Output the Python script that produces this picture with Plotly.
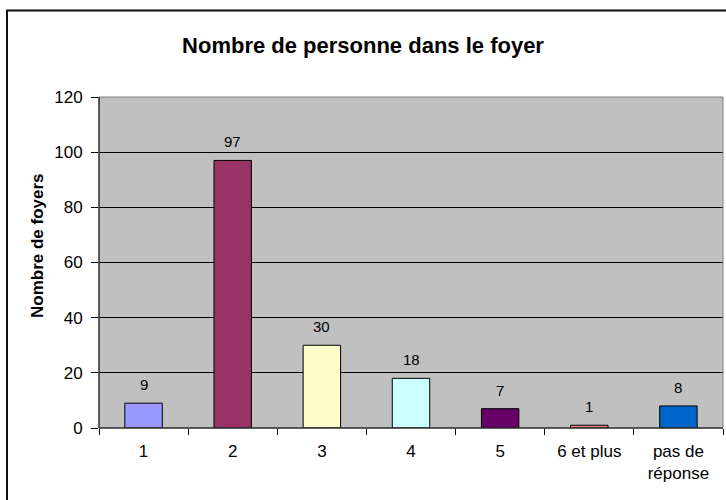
import plotly.graph_objects as go

categories = ["1", "2", "3", "4", "5", "6 et plus", "pas de<br>réponse"]
values = [9, 97, 30, 18, 7, 1, 8]
bar_colors = ["#9999FF", "#993366", "#FFFFCC", "#CCFFFF", "#660066", "#FF8080", "#0066CC"]
y_ticks = [0, 20, 40, 60, 80, 100, 120]

W, H = 726, 500
L, R, T, B = 99, 3, 97, 72
pw, ph = W - L - R, H - T - B

def px_x(px):
    return (px - L) / pw

def px_y(py):
    return (H - B - py) / ph

FONT = "Liberation Sans, Arial, sans-serif"

fig = go.Figure()
fig.add_trace(go.Bar(
    x=categories, y=values,
    marker=dict(color=bar_colors, line=dict(color="#000000", width=1)),
    hoverinfo="skip",
))

for i, v in enumerate(values):
    fig.add_annotation(x=i, y=v, text=str(v), showarrow=False, yanchor="bottom",
                       yshift=8, font=dict(family=FONT, size=15, color="#000000"))

fig.add_annotation(xref="paper", yref="paper", x=px_x(37), y=px_y(246),
                   text="<b>Nombre de foyers</b>", textangle=-90, showarrow=False,
                   xanchor="center", yanchor="middle",
                   font=dict(family=FONT, size=17, color="#000000"))

# plot area border
fig.add_shape(type="rect", xref="paper", yref="paper", x0=0, y0=0, x1=1, y1=1,
              line=dict(color="#808080", width=1), layer="above")
fig.add_shape(type="line", xref="paper", yref="paper", x0=0, y0=0, x1=0, y1=1,
              line=dict(color="#000000", width=1), layer="above")
fig.add_shape(type="line", xref="paper", yref="paper", x0=0, y0=0, x1=1, y1=0,
              line=dict(color="#000000", width=1), layer="above")
# outer chart frame
fig.add_shape(type="rect", xref="paper", yref="paper",
              x0=px_x(7), y0=px_y(510), x1=px_x(735), y1=px_y(10.5),
              line=dict(color="#111111", width=2), layer="above")

fig.update_layout(
    width=W, height=H,
    margin=dict(l=L, r=R, t=T, b=B),
    paper_bgcolor="#FFFFFF", plot_bgcolor="#C0C0C0",
    bargap=0.58, showlegend=False,
    title=dict(text="<b>Nombre de personne dans le foyer</b>", x=0.5, xref="container",
               y=1 - 45 / H, yanchor="middle", xanchor="center",
               font=dict(family=FONT, size=22, color="#000000")),
    font=dict(family=FONT, size=17, color="#000000"),
)
fig.update_xaxes(type="category", ticks="outside", tickson="boundaries", ticklen=6,
                 tickcolor="#000000", showline=False, showgrid=False,
                 ticklabelstandoff=11,
                 tickfont=dict(family=FONT, size=17, color="#000000"))
fig.update_yaxes(range=[0, 120], tickvals=y_ticks, ticks="outside", ticklen=7,
                 tickcolor="#000000", showgrid=True, gridcolor="#000000", gridwidth=1,
                 zeroline=False, showline=False, ticklabelstandoff=5,
                 tickfont=dict(family=FONT, size=17, color="#000000"))

fig.write_html("out.html", config={"displayModeBar": False},
               post_script="document.body.style.margin='0px';")
